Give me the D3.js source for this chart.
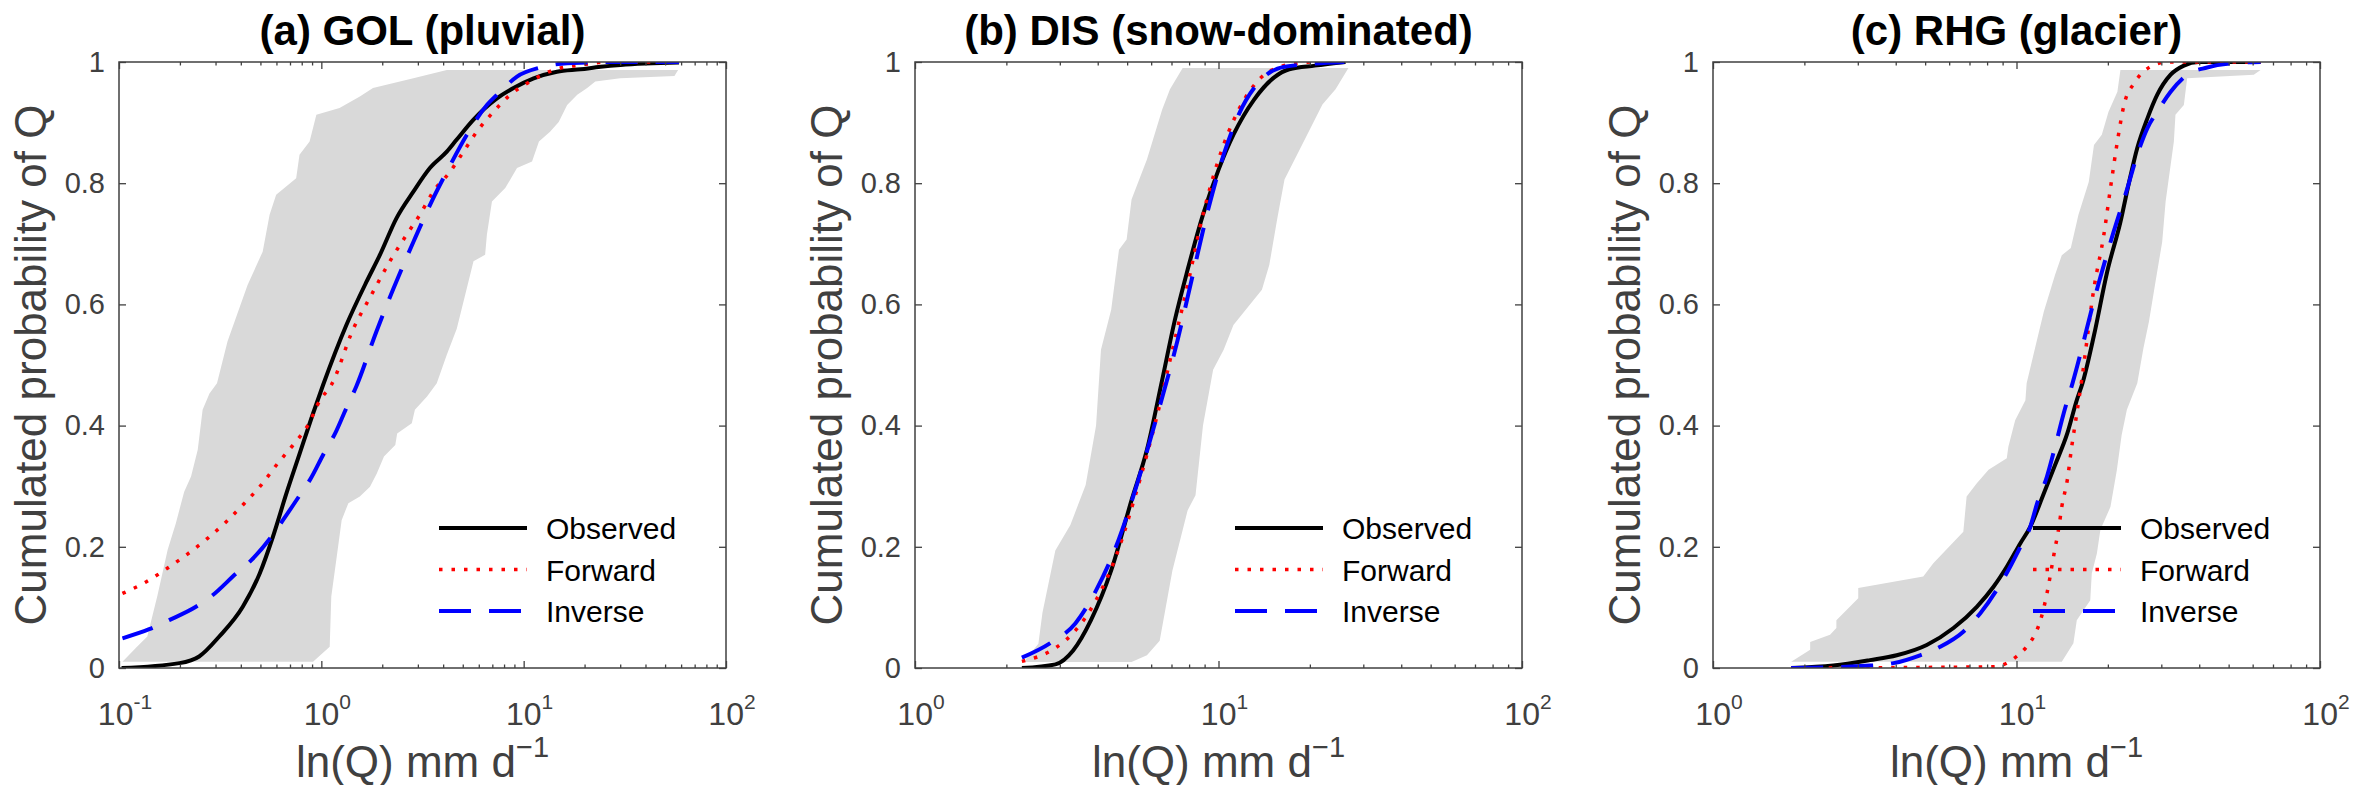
<!DOCTYPE html>
<html>
<head>
<meta charset="utf-8">
<script src="https://cdn.jsdelivr.net/npm/d3@7"></script>
<style>
  html, body { margin: 0; padding: 0; background: #fff; }
  svg { display: block; font-family: "Liberation Sans", Arial, Helvetica, sans-serif; }
</style>
</head>
<body>
<div id="chart"></div>
<script>
// Cumulative distributions of daily discharge, three catchments
// every series is a list of [Q (mm/d), cumulated probability]

const titles = ['(a) GOL (pluvial)', '(b) DIS (snow-dominated)', '(c) RHG (glacier)'];
const xDomains = [[0.1, 100], [1, 100], [1, 100]];
const yTicks = [0, 0.2, 0.4, 0.6, 0.8, 1];
const legendLabels = ['Observed', 'Forward', 'Inverse'];

// (a) GOL
const obsA = [[0.103,0],[0.199,0.008],[0.249,0.019],[0.313,0.052],[0.409,0.101],[0.496,0.156],[0.577,0.217],[0.672,0.288],[0.782,0.354],[0.91,0.42],[1.02,0.467],[1.33,0.566],[1.67,0.637],[1.95,0.682],[2.35,0.742],[2.85,0.786],[3.44,0.825],[4.17,0.852],[4.67,0.872],[5.65,0.905],[7.38,0.94],[8.91,0.957],[11.2,0.973],[14.6,0.984],[19.1,0.988],[24,0.992],[30.1,0.995],[58.6,0.999]];
const fwdA = [[0.104,0.123],[0.136,0.142],[0.174,0.165],[0.218,0.188],[0.274,0.214],[0.338,0.241],[0.417,0.272],[0.505,0.302],[0.6,0.335],[0.725,0.368],[0.86,0.401],[0.985,0.442],[1.12,0.467],[1.44,0.56],[1.77,0.616],[2.18,0.671],[2.64,0.715],[3.07,0.748],[3.57,0.786],[4.33,0.819],[5.04,0.852],[5.87,0.885],[7.1,0.918],[8.58,0.946],[10.8,0.968],[14.1,0.987],[19.1,0.995],[25.9,1],[58.6,1]];
const invA = [[0.104,0.049],[0.141,0.064],[0.177,0.079],[0.24,0.101],[0.29,0.12],[0.379,0.156],[0.451,0.178],[0.567,0.217],[0.646,0.244],[0.782,0.285],[0.877,0.31],[1.04,0.357],[1.17,0.387],[1.33,0.429],[1.49,0.465],[1.87,0.555],[2.27,0.626],[2.85,0.703],[3.57,0.775],[4.17,0.819],[5.24,0.88],[6.58,0.929],[7.66,0.951],[9.27,0.976],[12.1,0.991],[16.4,0.998],[30,1],[58.6,1]];
const bandLoA = [[0.104,0.0105],[0.121,0.033],[0.138,0.052],[0.155,0.12],[0.174,0.195],[0.191,0.239],[0.21,0.291],[0.227,0.316],[0.245,0.36],[0.259,0.426],[0.28,0.453],[0.305,0.47],[0.344,0.539],[0.432,0.632],[0.513,0.687],[0.555,0.748],[0.598,0.781],[0.751,0.808],[0.78,0.847],[0.875,0.869],[0.945,0.913],[1.23,0.924],[1.55,0.943],[1.8,0.957],[2.85,0.973],[4.17,0.987]];
const bandHiA = [[0.91,0.0105],[1.1,0.035],[1.12,0.118],[1.21,0.2],[1.26,0.244],[1.36,0.272],[1.55,0.283],[1.74,0.299],[1.88,0.321],[2.04,0.349],[2.32,0.368],[2.37,0.387],[2.8,0.404],[2.9,0.426],[3.33,0.448],[3.72,0.47],[4.17,0.517],[4.67,0.56],[5.24,0.627],[5.65,0.671],[6.45,0.682],[6.58,0.715],[6.97,0.77],[8.11,0.792],[9.27,0.825],[11,0.836],[11.9,0.869],[13.5,0.885],[14.9,0.901],[16.4,0.929],[18.4,0.946],[20.6,0.957],[22.6,0.968],[30,0.973],[55.6,0.977],[58,0.987]];

// (b) DIS
const obsB = [[2.25,0],[2.9,0.006],[3.32,0.029],[3.8,0.079],[4.43,0.161],[5.17,0.277],[5.81,0.36],[6.52,0.475],[7.18,0.574],[7.91,0.657],[8.89,0.748],[10,0.822],[11.2,0.88],[13.1,0.938],[15.3,0.975],[17.1,0.988],[20.8,0.994],[26.2,1]];
const fwdB = [[2.25,0.011],[2.9,0.033],[3.38,0.062],[3.95,0.112],[4.61,0.186],[5.38,0.293],[6.28,0.417],[7.05,0.525],[7.91,0.632],[8.89,0.748],[10,0.839],[11.65,0.921],[13.6,0.971],[15.9,0.992],[20,1]];
const invB = [[2.25,0.017],[2.79,0.041],[3.38,0.074],[3.95,0.128],[4.61,0.202],[5.38,0.302],[6.28,0.417],[7.33,0.541],[8.23,0.649],[9.24,0.756],[10.4,0.847],[11.65,0.913],[13.6,0.967],[16.5,0.992],[26,1]];
const bandLoB = [[2.28,0.01],[2.55,0.04],[2.63,0.091],[2.9,0.194],[3.25,0.236],[3.65,0.302],[3.95,0.4],[4.1,0.525],[4.43,0.591],[4.7,0.69],[4.98,0.707],[5.17,0.773],[5.81,0.839],[6.52,0.921],[6.92,0.955],[7.62,0.99]];
const bandHiB = [[5.17,0.01],[5.81,0.021],[6.4,0.045],[7.05,0.161],[7.91,0.26],[8.4,0.285],[8.89,0.4],[9.6,0.492],[10.4,0.525],[11.2,0.566],[13.9,0.624],[14.7,0.665],[15.6,0.74],[16.5,0.806],[18.5,0.855],[22,0.93],[24.3,0.955],[26.8,0.99]];

// (c) RHG
const obsC = [[1.81,0],[2.49,0.004],[3.29,0.013],[4.03,0.021],[5.06,0.038],[6.2,0.066],[7.4,0.101],[8.4,0.134],[9.29,0.167],[10.3,0.206],[11.1,0.233],[12.3,0.288],[13.4,0.335],[14.7,0.387],[15.8,0.442],[16.5,0.47],[18,0.549],[19.9,0.654],[22,0.736],[23.5,0.802],[25,0.858],[27,0.907],[29.1,0.946],[32.2,0.979],[35.6,0.994],[39.8,1],[63.7,1]];
const fwdC = [[1.81,0],[8.4,0.002],[9.29,0.008],[10,0.019],[10.8,0.035],[11.4,0.052],[12,0.079],[12.6,0.123],[13.3,0.189],[13.8,0.233],[14.1,0.266],[14.7,0.31],[15.2,0.365],[15.8,0.42],[16.4,0.475],[18,0.627],[19.4,0.715],[20.4,0.792],[21.5,0.869],[22.6,0.929],[24.4,0.965],[26.2,0.984],[28.4,0.995],[31.3,1],[63.7,1]];
const invC = [[1.81,0],[3.29,0.004],[3.93,0.008],[4.81,0.021],[5.6,0.035],[6.68,0.06],[7.59,0.09],[8.61,0.129],[9.53,0.167],[10.3,0.2],[11.1,0.233],[11.7,0.272],[12.6,0.316],[13.4,0.365],[14.3,0.42],[15.3,0.47],[18.7,0.637],[20.9,0.72],[23.2,0.792],[25,0.847],[27,0.891],[29.1,0.918],[32.2,0.951],[36.5,0.979],[42.5,0.991],[52,0.998],[63.7,1]];
const bandLoC = [[1.81,0.0105],[2.09,0.03],[2.09,0.043],[2.43,0.055],[2.55,0.066],[2.55,0.079],[3.01,0.115],[3.01,0.132],[4.93,0.151],[5.32,0.173],[6.68,0.225],[6.85,0.283],[7.4,0.305],[8.09,0.327],[9.29,0.346],[9.4,0.365],[9.9,0.409],[10.7,0.442],[10.8,0.47],[12.3,0.588],[13.4,0.649],[14.1,0.681],[15.1,0.693],[16,0.748],[17.3,0.802],[18,0.863],[19.1,0.88],[20.1,0.918],[21.5,0.951],[22,0.987]];
const bandHiC = [[14.1,0.0105],[15.4,0.041],[15.8,0.079],[17.5,0.112],[17.7,0.156],[18.4,0.189],[18.9,0.228],[20.4,0.266],[21.4,0.326],[22.2,0.384],[23.1,0.426],[25,0.47],[26.2,0.528],[27.3,0.571],[28.7,0.637],[30.2,0.703],[31,0.77],[32.2,0.83],[33,0.869],[33.4,0.913],[35.6,0.929],[36.5,0.973],[60.5,0.979],[63.7,0.987]];

const panels = [
  { obs: obsA, fwd: fwdA, inv: invA, lo: bandLoA, hi: bandHiA },
  { obs: obsB, fwd: fwdB, inv: invB, lo: bandLoB, hi: bandHiB },
  { obs: obsC, fwd: fwdC, inv: invC, lo: bandLoC, hi: bandHiC }
];

const W = 2360, H = 785;
const lefts = [119, 915, 1713];
const pw = 607, ph = 606, plotTop = 62;
const axisColor = '#404040';
const styles = [
  { color: '#000000', dash: null, width: 4 },
  { color: '#ff0000', dash: '3.5 9', width: 3.5 },
  { color: '#0000ff', dash: '32 18', width: 4 }
];

const svg = d3.select('#chart').append('svg')
  .attr('width', W)
  .attr('height', H)
  .attr('viewBox', [0, 0, W, H]);

panels.forEach((p, i) => {
  const g = svg.append('g').attr('transform', `translate(${lefts[i]},${plotTop})`);
  const x = d3.scaleLog().domain(xDomains[i]).range([0, pw]);
  const y = d3.scaleLinear().domain([0, 1]).range([ph, 0]);

  g.append('clipPath').attr('id', `clip${i}`)
    .append('rect').attr('width', pw).attr('height', ph);

  const plot = g.append('g').attr('clip-path', `url(#clip${i})`);

  // spread of the ensemble
  const band = p.lo.concat(p.hi.slice().reverse());
  plot.append('path')
    .datum(band)
    .attr('d', d3.line().x(d => x(d[0])).y(d => y(d[1])))
    .attr('fill', '#d9d9d9')
    .attr('stroke', 'none');

  const line = d3.line()
    .x(d => x(d[0]))
    .y(d => y(d[1]))
    .curve(d3.curveMonotoneX);

  [p.obs, p.fwd, p.inv].forEach((s, k) => {
    plot.append('path')
      .datum(s)
      .attr('d', line)
      .attr('fill', 'none')
      .attr('stroke', styles[k].color)
      .attr('stroke-width', styles[k].width)
      .attr('stroke-dasharray', styles[k].dash)
      .attr('stroke-linejoin', 'round');
  });

  // ticks: majors at decades, minors in between
  const [d0, d1] = xDomains[i];
  const majors = d3.range(Math.log10(d0), Math.log10(d1) + 1).map(e => Math.pow(10, e));
  const minors = [];
  majors.slice(0, -1).forEach(m => { for (let k = 2; k <= 9; k++) minors.push(m * k); });

  const tickStyle = sel => {
    sel.select('.domain').remove();
    sel.selectAll('line').attr('stroke', axisColor).attr('stroke-width', 1.3);
  };

  g.append('g').attr('transform', `translate(0,${ph})`)
    .call(d3.axisBottom(x).tickValues(majors).tickSize(-7).tickFormat('')).call(tickStyle);
  g.append('g').attr('transform', `translate(0,${ph})`)
    .call(d3.axisBottom(x).tickValues(minors).tickSize(-3.5).tickFormat('')).call(tickStyle);
  g.append('g')
    .call(d3.axisTop(x).tickValues(majors).tickSize(-7).tickFormat('')).call(tickStyle);
  g.append('g')
    .call(d3.axisTop(x).tickValues(minors).tickSize(-3.5).tickFormat('')).call(tickStyle);

  const yl = g.append('g')
    .call(d3.axisLeft(y).tickValues(yTicks).tickSize(-7).tickPadding(14).tickFormat(d3.format('~g')))
    .call(tickStyle);
  yl.selectAll('text')
    .attr('fill', axisColor)
    .attr('font-size', 29)
    .attr('font-family', '"Liberation Sans", Arial, sans-serif');
  g.append('g').attr('transform', `translate(${pw},0)`)
    .call(d3.axisRight(y).tickValues(yTicks).tickSize(-7).tickFormat('')).call(tickStyle);

  // x tick labels as 10^n
  const xl = g.append('g').selectAll('text')
    .data(majors)
    .join('text')
    .attr('x', d => x(d) + 6)
    .attr('y', ph + 57)
    .attr('text-anchor', 'middle')
    .attr('fill', axisColor)
    .attr('font-size', 32);
  xl.append('tspan').text('10');
  xl.append('tspan')
    .attr('font-size', 21)
    .attr('dy', -16)
    .text(d => String(Math.round(Math.log10(d))));

  // frame
  g.append('rect')
    .attr('width', pw)
    .attr('height', ph)
    .attr('fill', 'none')
    .attr('stroke', axisColor)
    .attr('stroke-width', 1.5);

  // title
  g.append('text')
    .attr('x', pw / 2)
    .attr('y', -17)
    .attr('text-anchor', 'middle')
    .attr('font-size', 42)
    .attr('font-weight', 'bold')
    .attr('fill', '#000')
    .text(titles[i]);

  // axis labels
  const xt = g.append('text')
    .attr('x', pw / 2)
    .attr('y', ph + 109)
    .attr('text-anchor', 'middle')
    .attr('fill', axisColor)
    .attr('font-size', 44);
  xt.append('tspan').text('ln(Q) mm d');
  xt.append('tspan').attr('font-size', 29).attr('dy', -20).text('\u22121');

  g.append('text')
    .attr('transform', `translate(-73,${ph / 2}) rotate(-90)`)
    .attr('text-anchor', 'middle')
    .attr('fill', axisColor)
    .attr('font-size', 44)
    .text('Cumulated probability of Q');

  // legend, no box
  const lg = g.append('g').attr('transform', `translate(${320},${466})`);
  legendLabels.forEach((lab, k) => {
    const row = lg.append('g').attr('transform', `translate(0,${k * 41.5})`);
    row.append('line')
      .attr('x1', 0).attr('x2', 88)
      .attr('stroke', styles[k].color)
      .attr('stroke-width', styles[k].width)
      .attr('stroke-dasharray', styles[k].dash);
    row.append('text')
      .attr('x', 107)
      .attr('y', 11)
      .attr('font-size', 30)
      .attr('fill', '#000')
      .text(lab);
  });
});
</script>
</body>
</html>
